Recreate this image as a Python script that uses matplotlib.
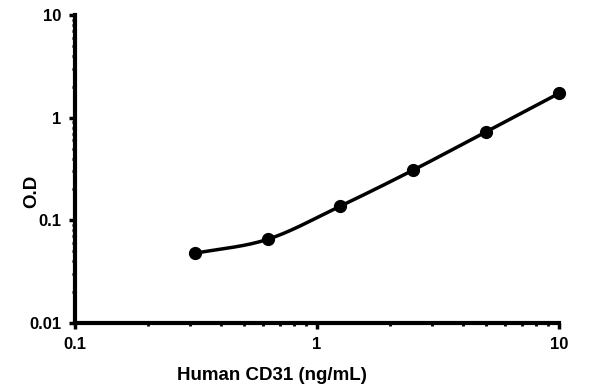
import numpy as np
import matplotlib.pyplot as plt
from matplotlib.ticker import LogLocator, FixedLocator, FixedFormatter, NullFormatter

plt.rcParams['font.family'] = ['Liberation Sans', 'DejaVu Sans']
plt.rcParams['font.weight'] = 'bold'

# standard curve data
conc = [0.3125, 0.625, 1.25, 2.5, 5, 10]
od = [0.0477, 0.0653, 0.1378, 0.309, 0.729, 1.725]

x_ticks = [0.1, 1, 10]
x_tick_labels = ["0.1", "1", "10"]
y_ticks = [0.01, 0.1, 1, 10]
y_tick_labels = ["0.01", "0.1", "1", "10"]


def smooth_curve(xs, ys, n=40):
    # catmull-rom through the points in log-log space
    lx = np.log10(xs)
    ly = np.log10(ys)
    px = np.concatenate([[2 * lx[0] - lx[1]], lx, [2 * lx[-1] - lx[-2]]])
    py = np.concatenate([[2 * ly[0] - ly[1]], ly, [2 * ly[-1] - ly[-2]]])
    out_x, out_y = [], []
    t = np.linspace(0, 1, n)
    for i in range(1, len(px) - 2):
        for p, out in ((px, out_x), (py, out_y)):
            p0, p1, p2, p3 = p[i - 1], p[i], p[i + 1], p[i + 2]
            seg = 0.5 * ((2 * p1) + (-p0 + p2) * t + (2 * p0 - 5 * p1 + 4 * p2 - p3) * t ** 2
                         + (-p0 + 3 * p1 - 3 * p2 + p3) * t ** 3)
            out.extend(seg)
    return 10 ** np.array(out_x), 10 ** np.array(out_y)


fig = plt.figure(figsize=(5.95, 3.84), dpi=100)
ax = fig.add_axes([75 / 595, 61 / 384, 484 / 595, 308 / 384])

cx, cy = smooth_curve(conc, od)
ax.plot(cx, cy, color='black', lw=2.5, solid_capstyle='round', clip_on=False)
ax.plot(conc, od, 'o', color='black', ms=8.5, clip_on=False)

ax.set_xscale('log')
ax.set_yscale('log')
ax.set_xlim(0.1, 10)
ax.set_ylim(0.01, 10)

ax.xaxis.set_major_locator(FixedLocator(x_ticks))
ax.xaxis.set_major_formatter(FixedFormatter(x_tick_labels))
ax.yaxis.set_major_locator(FixedLocator(y_ticks))
ax.yaxis.set_major_formatter(FixedFormatter(y_tick_labels))
ax.xaxis.set_minor_locator(LogLocator(base=10, subs=np.arange(2, 10)))
ax.yaxis.set_minor_locator(LogLocator(base=10, subs=np.arange(2, 10)))
ax.xaxis.set_minor_formatter(NullFormatter())
ax.yaxis.set_minor_formatter(NullFormatter())

for s in ['top', 'right']:
    ax.spines[s].set_visible(False)
for s in ['left', 'bottom']:
    ax.spines[s].set_linewidth(3)

ax.tick_params(which='major', direction='out', length=4, width=2.5, labelsize=12, pad=6)
ax.tick_params(which='minor', direction='out', length=2.5, width=2)

ax.set_xlabel("Human CD31 (ng/mL)", fontsize=13.5, fontweight='bold')
ax.xaxis.set_label_coords((272 - 75) / 484, -44 / 308)
ax.set_ylabel("O.D", fontsize=13.5, fontweight='bold')
ax.yaxis.set_label_coords((40 - 75) / 484, (323 - 191) / 308)

fig.savefig("out.png", dpi=100)
